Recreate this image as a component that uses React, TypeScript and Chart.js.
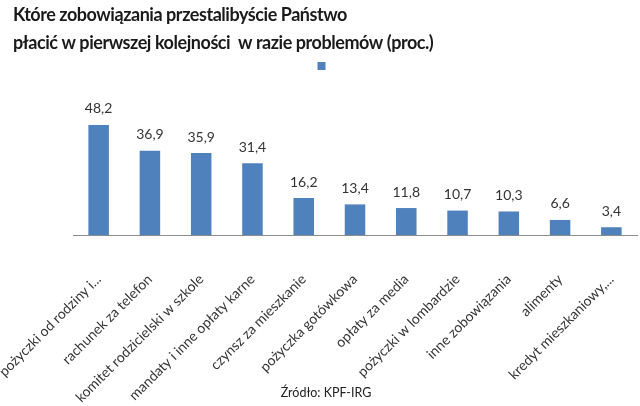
import React, { useEffect, useRef } from "react";
import { Chart, registerables } from "chart.js";

Chart.register(...registerables);

const titleLines = [
  "Które zobowiązania przestalibyście Państwo",
  "płacić w pierwszej kolejności  w razie problemów (proc.)",
];
const categories = [
  "pożyczki od rodziny i...",
  "rachunek za telefon",
  "komitet rodzicielski w szkole",
  "mandaty i inne opłaty karne",
  "czynsz za mieszkanie",
  "pożyczka gotówkowa",
  "opłaty za media",
  "pożyczki w lombardzie",
  "inne zobowiązania",
  "alimenty",
  "kredyt mieszkaniowy,...",
];
const values = [48.2, 36.9, 35.9, 31.4, 16.2, 13.4, 11.8, 10.7, 10.3, 6.6, 3.4];
const sourceText = "Źródło: KPF-IRG";

const FONT = "Lato, 'Open Sans', sans-serif";

const extrasPlugin = {
  id: "extras",
  afterDatasetsDraw(chart: any) {
    const ctx = chart.ctx;
    const meta = chart.getDatasetMeta(0);
    ctx.save();
    ctx.fillStyle = "#333333";
    ctx.font = `14px ${FONT}`;
    ctx.textAlign = "center";
    ctx.textBaseline = "bottom";
    meta.data.forEach((bar: any, i: number) => {
      ctx.fillText(values[i].toFixed(1).replace(".", ","), bar.x, bar.y - 9);
    });
    ctx.restore();
  },
  afterDraw(chart: any) {
    const ctx = chart.ctx;
    ctx.save();
    ctx.fillStyle = "#1a1a1a";
    ctx.font = `700 18px ${FONT}`;
    (ctx as any).letterSpacing = "-0.45px";
    ctx.textAlign = "left";
    ctx.textBaseline = "middle";
    ctx.fillText(titleLines[0], 13, 15);
    ctx.fillText(titleLines[1], 13, 43);
    (ctx as any).letterSpacing = "0px";
    ctx.font = `12.5px ${FONT}`;
    ctx.textAlign = "center";
    ctx.fillStyle = "#222222";
    ctx.fillText(sourceText, 326, 393);
    ctx.restore();
  },
};

export default function App() {
  const ref = useRef<HTMLCanvasElement>(null);
  useEffect(() => {
    document.body.style.margin = "0";
    const chart = new Chart(ref.current!, {
      type: "bar",
      data: {
        labels: categories,
        datasets: [
          {
            label: "",
            data: values,
            backgroundColor: "#4F81BD",
            barPercentage: 0.8,
            categoryPercentage: 0.5,
          },
        ],
      },
      options: {
        animation: false,
        responsive: false,
        layout: { padding: { top: 50, left: 12, right: 3, bottom: 0 } },
        plugins: {
          legend: {
            display: true,
            position: "top",
            labels: {
              boxWidth: 8,
              boxHeight: 8,
              padding: 10,
              font: { size: 12, family: FONT },
            },
          },
          title: { display: false },
          tooltip: { enabled: false },
        },
        scales: {
          x: {
            grid: { display: false, drawTicks: false },
            border: { display: true, color: "#8c8c8c", width: 1 },
            ticks: {
              minRotation: 45,
              maxRotation: 45,
              autoSkip: false,
              padding: 36,
              color: "#333333",
              font: { size: 14, family: FONT },
            },
            afterFit: (scale: any) => {
              scale.height = 171;
              scale.paddingLeft = 0;
              scale.paddingRight = 0;
            },
          },
          y: {
            display: true,
            min: 0,
            max: 67,
            grid: { display: false, drawTicks: false },
            border: { display: false },
            ticks: { display: false },
            afterFit: (scale: any) => {
              scale.width = 61;
            },
          },
        },
      },
      plugins: [extrasPlugin],
    });
    return () => chart.destroy();
  }, []);
  return <canvas ref={ref} width={640} height={406} />;
}
